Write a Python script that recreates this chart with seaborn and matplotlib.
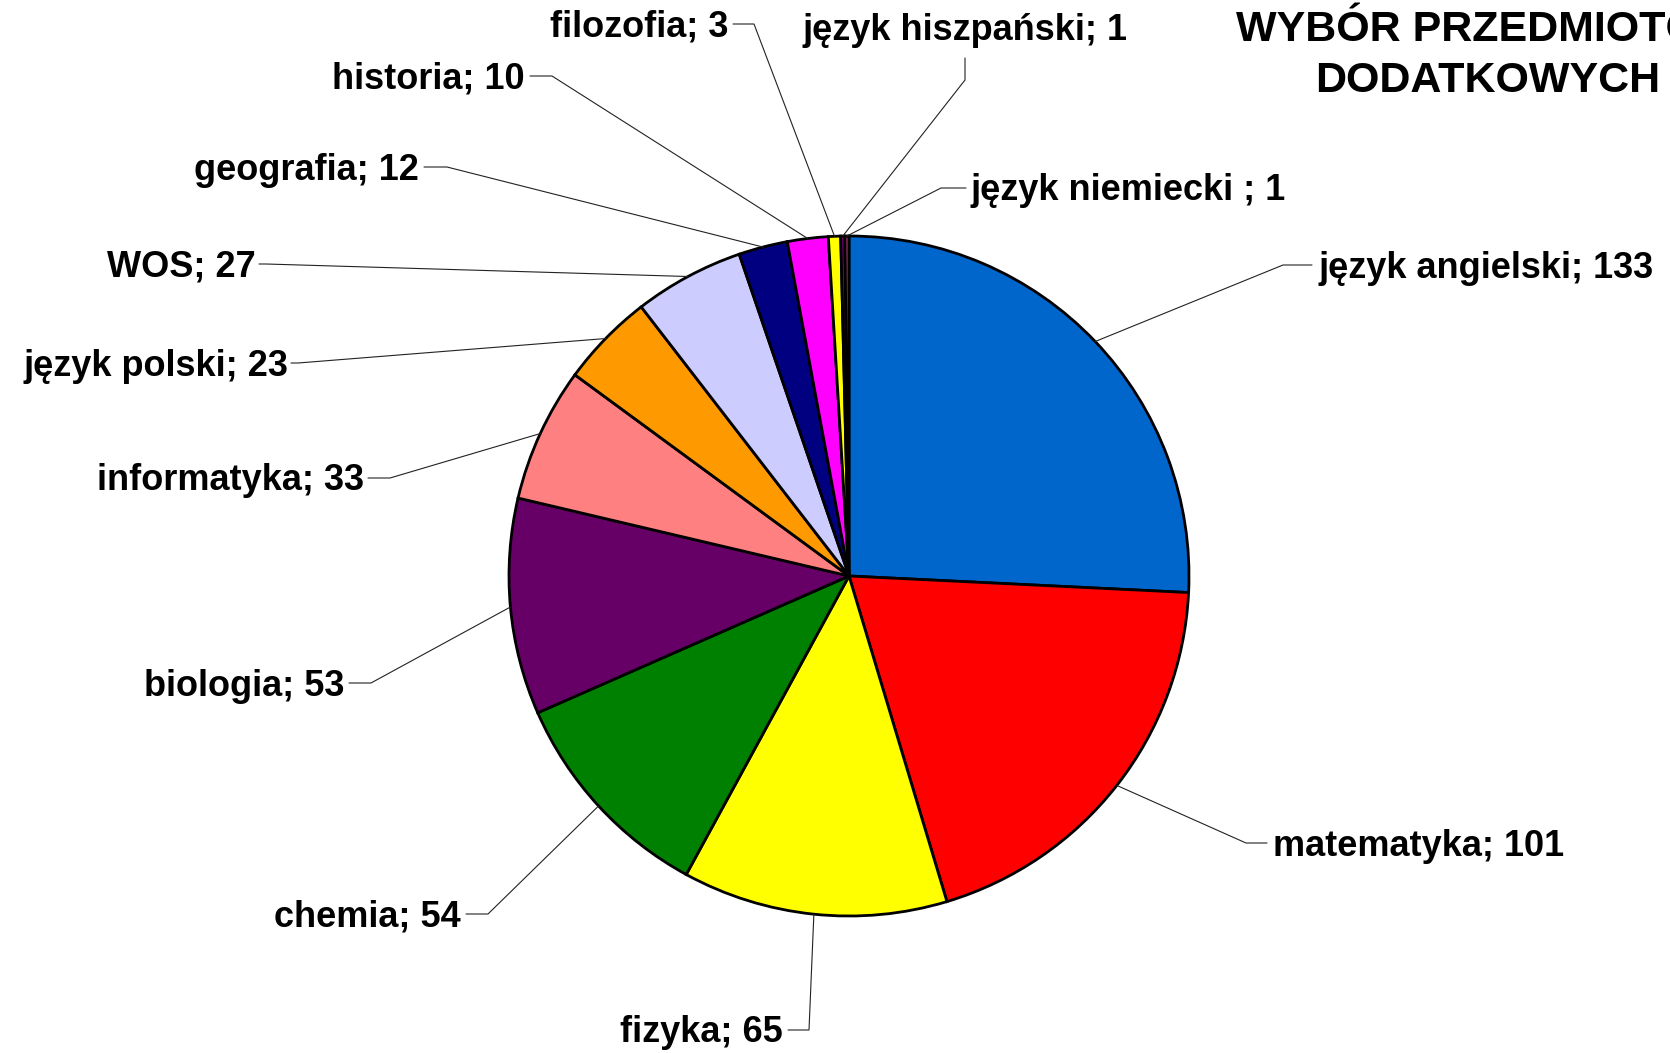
import numpy as np
import matplotlib
matplotlib.use("Agg")
import matplotlib.pyplot as plt
import seaborn as sns

sns.set_theme(style="white")
plt.rcParams['font.family'] = ['Liberation Sans', 'DejaVu Sans']

# ---- data ----
categories = ["język angielski", "matematyka", "fizyka", "chemia", "biologia",
              "informatyka", "język polski", "WOS", "geografia", "historia",
              "filozofia", "język hiszpański", "język niemiecki "]
values = [133, 101, 65, 54, 53, 33, 23, 27, 12, 10, 3, 1, 1]
colors = ["#0066CC", "#FF0000", "#FFFF00", "#008000", "#660066", "#FF8080",
          "#FF9900", "#CCCCFF", "#000080", "#FF00FF", "#FFFF00", "#800080", "#993366"]
title_lines = ["WYBÓR PRZEDMIOTÓW", "DODATKOWYCH"]

# ---- layout (figure pixels, measured from top) ----
W, H = 1670, 1053
center = (849, 576)
radius = 340
# (elbow x, elbow y, line end x, line end y, text x, text align)
layout = [
    (1283, 265, 1312, 265, 1318, "left"),
    (1246, 843, 1267, 843, 1273, "left"),
    (809, 1030, 788, 1030, 783, "right"),
    (488, 914, 466, 914, 461, "right"),
    (371, 683, 349, 683, 344, "right"),
    (390, 478, 368, 478, 364, "right"),
    (298, 363, 291, 363, 288, "right"),
    (266, 264, 259, 264, 256, "right"),
    (447, 167, 424, 167, 419, "right"),
    (552, 76, 530, 76, 525, "right"),
    (754, 24, 733, 24, 728, "right"),
    (965, 80, 965, 58, 965, "center"),
    (941, 188, 966, 188, 971, "left"),
]
text_dy = 3  # labels sit slightly below their leader line

fig = plt.figure(figsize=(W / 100, H / 100), dpi=100)
ax = fig.add_axes([0, 0, 1, 1])

cx, cy = center[0], H - center[1]
wedges, _ = ax.pie(values, colors=colors, startangle=90, counterclock=False,
                   center=(cx, cy), radius=radius, frame=True,
                   wedgeprops=dict(edgecolor="black", linewidth=2.0))
ax.set_xlim(0, W)
ax.set_ylim(0, H)
ax.set_aspect("equal")
ax.axis("off")

for w, cat, val, (ex, ey, lx, ly, tx, ha) in zip(wedges, categories, values, layout):
    mid = np.deg2rad((w.theta1 + w.theta2) / 2)
    ax0 = cx + radius * np.cos(mid)
    ay0 = cy + radius * np.sin(mid)
    ax.plot([ax0, ex, lx], [ay0, H - ey, H - ly], color="#222222", lw=0.8,
            solid_joinstyle="miter", zorder=1)
    if ha == "center":
        ty = H - 31
    else:
        ty = H - ly - text_dy
    ax.text(tx, ty, f"{cat}; {val}", ha=ha, va="center", fontsize=26,
            fontweight="bold", color="black")

for i, line in enumerate(title_lines):
    ax.text(1488, H - 30 - i * 51, line, ha="center", va="center", fontsize=31,
            fontweight="bold", color="black")

fig.savefig("out.png", dpi=100, facecolor="white")
